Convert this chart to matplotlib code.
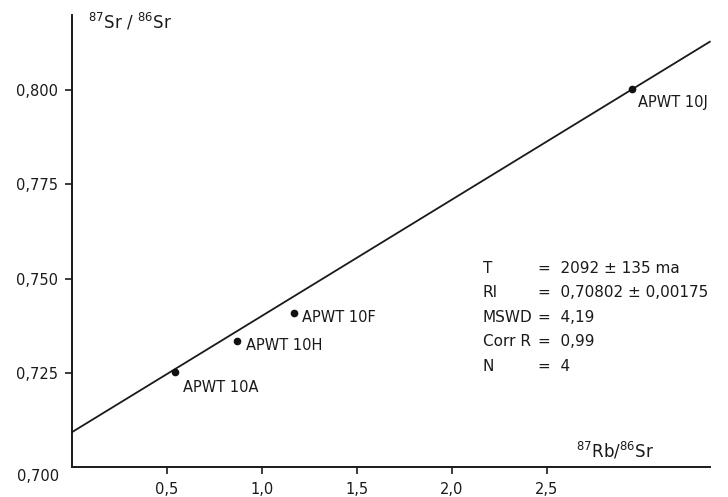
import matplotlib.pyplot as plt
import numpy as np

# sample data (87Rb/86Sr, 87Sr/86Sr)
samples = ['APWT 10A', 'APWT 10H', 'APWT 10F', 'APWT 10J']
rb_sr = [0.54, 0.87, 1.17, 2.95]
sr_sr = [0.7252, 0.7334, 0.7408, 0.8003]

# isochron line as drawn
line_intercept = 0.7093
line_slope = 0.0308

x_ticks = [0.5, 1.0, 1.5, 2.0, 2.5]
x_tick_labels = ['0,5', '1,0', '1,5', '2,0', '2,5']
y_ticks = [0.725, 0.750, 0.775, 0.800]
y_tick_labels = ['0,725', '0,750', '0,775', '0,800']

stats_names = ['T', 'RI', 'MSWD', 'Corr R', 'N']
stats_values = ['=  2092 \u00b1 135 ma', '=  0,70802 \u00b1 0,00175', '=  4,19', '=  0,99', '=  4']

label_offsets = [(6, -11), (6, -3), (6, -3), (4, -10)]

plt.rcParams['font.family'] = ['DejaVu Sans']
fig = plt.figure(figsize=(7.28, 4.97), dpi=100)
ax = fig.add_axes([0.099, 0.060, 0.876, 0.910])

xmin, xmax = 0.0, 3.36
ymin, ymax = 0.700, 0.8199
ax.set_xlim(xmin, xmax)
ax.set_ylim(ymin, ymax)

lx = np.array([xmin, xmax])
ax.plot(lx, line_intercept + line_slope * lx, color='#1a1a1a', lw=1.3, clip_on=False)
ax.plot(rb_sr, sr_sr, 'o', color='#111111', markersize=4.5)

for name, x, y, off in zip(samples, rb_sr, sr_sr, label_offsets):
    ax.annotate(name, (x, y), xytext=off, textcoords='offset points',
                ha='left', va='center', fontsize=10.5, color='#1a1a1a')

for side in ['top', 'right']:
    ax.spines[side].set_visible(False)
for side in ['left', 'bottom']:
    ax.spines[side].set_linewidth(1.4)
    ax.spines[side].set_color('#1a1a1a')

ax.set_xticks(x_ticks)
ax.set_xticklabels(x_tick_labels)
ax.set_yticks(y_ticks)
ax.set_yticklabels(y_tick_labels)
ax.tick_params(axis='both', colors='#1a1a1a', labelsize=10.5, length=5, width=1.2)
ax.tick_params(axis='x', pad=6)
ax.tick_params(axis='y', pad=5)

ax.text(-0.02, ymin - 0.0005, '0,700', transform=ax.get_yaxis_transform(),
        ha='right', va='top', fontsize=10.5, color='#1a1a1a')

ax.text(0.025, 0.985, r'$^{87}$Sr / $^{86}$Sr', transform=ax.transAxes,
        ha='left', va='center', fontsize=12, color='#1a1a1a')
ax.text(0.79, 0.035, r'$^{87}$Rb/$^{86}$Sr', transform=ax.transAxes,
        ha='left', va='center', fontsize=12, color='#1a1a1a')

for i, (n, v) in enumerate(zip(stats_names, stats_values)):
    yy = (467 - (268 + 24.5 * i)) / 452
    ax.text(0.644, yy, n, transform=ax.transAxes, ha='left', va='center',
            fontsize=11, color='#1a1a1a')
    ax.text(0.730, yy, v, transform=ax.transAxes, ha='left', va='center',
            fontsize=11, color='#1a1a1a')

fig.savefig('out.png', dpi=100)
